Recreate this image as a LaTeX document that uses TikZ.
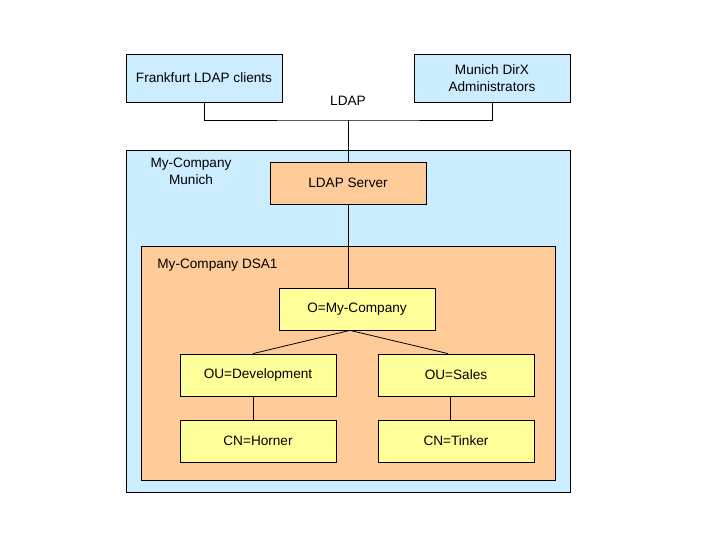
\documentclass[tikz,border=0pt]{standalone}
\usepackage{fontspec}
\setmainfont{Liberation Sans}
\usepackage{tikz}
\usetikzlibrary{positioning}
\definecolor{paleblue}{RGB}{204,236,255}
\definecolor{paleorange}{RGB}{255,204,153}
\definecolor{paleyellow}{RGB}{255,255,153}

\begin{document}
\begin{tikzpicture}[x=1pt, y=-1pt, line width=0.8pt, font=\fontsize{13.6}{17}\selectfont,
    box/.style={draw, minimum width=156pt, inner sep=0pt, align=center},
    client/.style={box, fill=paleblue, minimum height=48pt},
    server/.style={box, fill=paleorange, minimum height=42pt},
    entry/.style={box, fill=paleyellow, minimum height=42pt}]
    \useasboundingbox (0,0) rectangle (720,540);

    % Containers
    \draw[fill=paleblue] (126,150) rectangle (570,492);
    \draw[fill=paleorange] (141,246) rectangle (555,480);
    \node[align=center] (munich) at (191,171) {My-Company\\Munich};
    \node[anchor=west, inner sep=0pt] (dsa) at (157,265) {My-Company DSA1};

    % Clients
    \node[client] (frank) at (204,78) {Frankfurt LDAP clients};
    \node[client] (dirx) at (492,78) {Munich DirX\\Administrators};
    \node (ldap) at (348,101) {LDAP};
    \coordinate (bus) at (348,120);

    % Server and directory tree
    \node[server] (srv) at (348,183) {LDAP Server};
    \node[entry] (org) at (357,309) {O=My-Company};
    \node[entry] (dev) at (258,375) {OU=Development};
    \node[entry] (sales) at (456,375) {OU=Sales};
    \node[entry] (horner) at (258,441) {CN=Horner};
    \node[entry] (tinker) at (456,441) {CN=Tinker};

    % Connections
    \draw (frank.south) |- (bus) -| (dirx.south);
    \draw (bus) -- (srv.north);
    \draw (srv.south) -- (srv.south |- org.north);
    \draw ([xshift=-7pt]org.south) -- ([xshift=-5pt]dev.north);
    \draw ([xshift=-7pt]org.south) -- ([xshift=-8pt]sales.north);
    \draw ([xshift=-5pt]dev.south) -- ([xshift=-5pt]horner.north);
    \draw ([xshift=-6pt]sales.south) -- ([xshift=-6pt]tinker.north);
\end{tikzpicture}
\end{document}
